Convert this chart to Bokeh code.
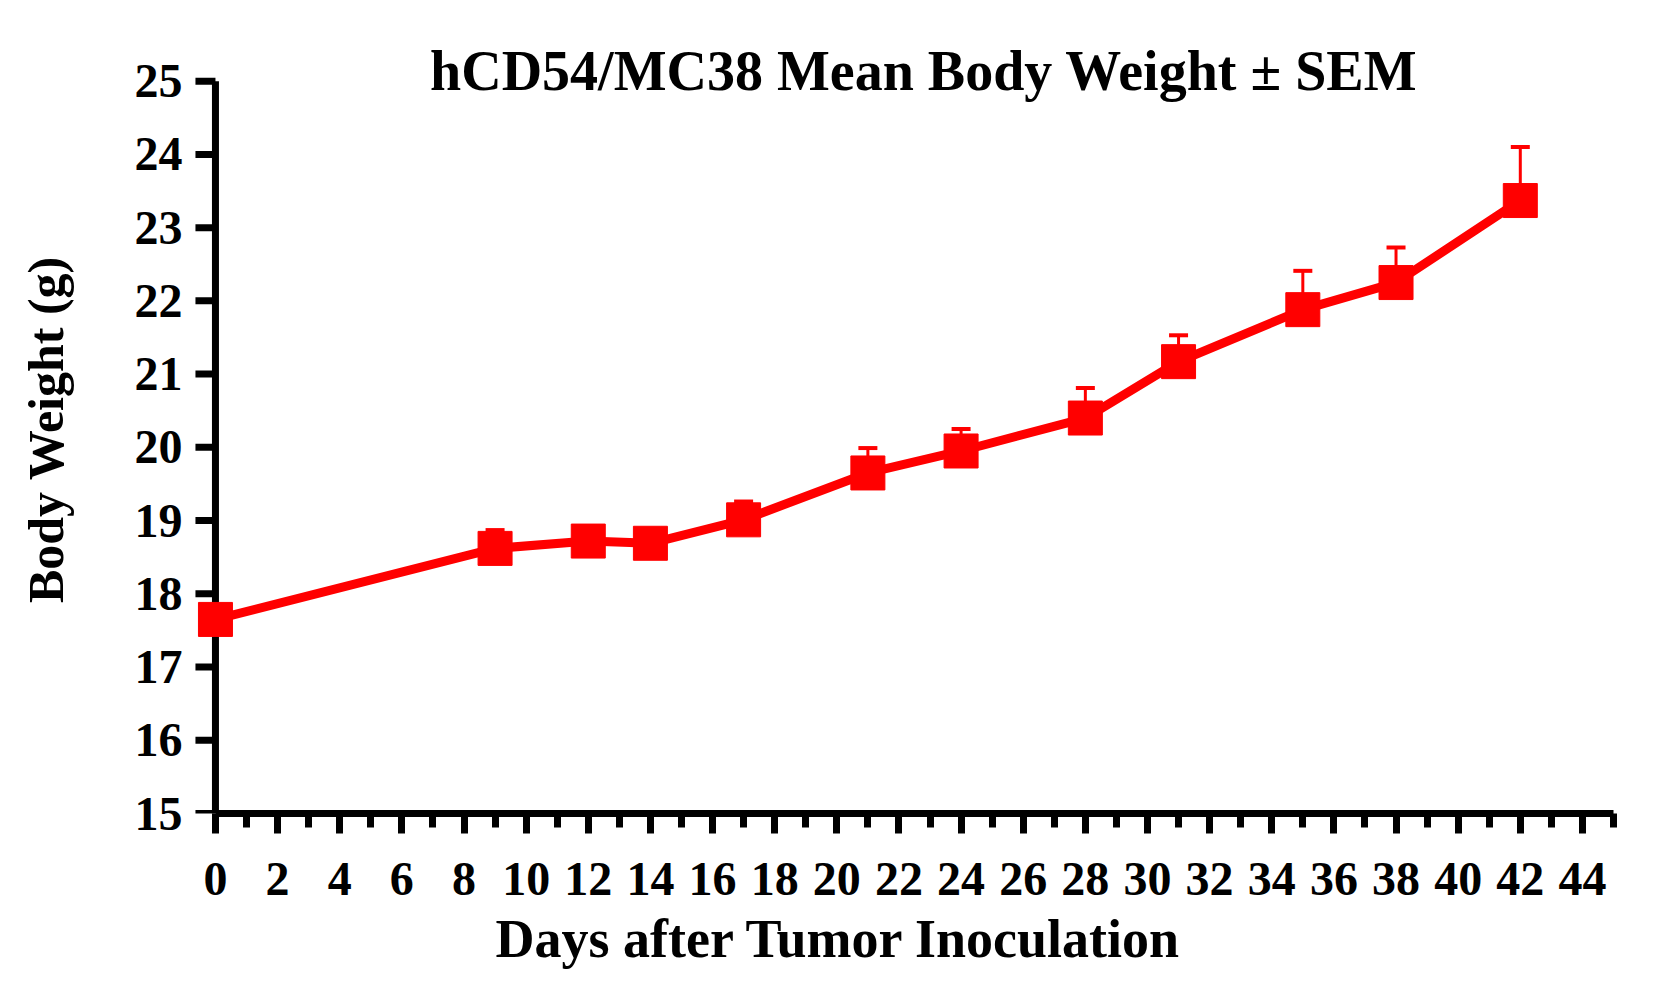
import math
from bokeh.plotting import figure
from bokeh.models import FixedTicker, Label, Whisker, TeeHead, ColumnDataSource, Range1d, Title
from bokeh.embed import file_html
from bokeh.resources import INLINE

# ---- data ----
days = [0, 9, 12, 14, 17, 21, 24, 28, 31, 35, 38, 42]
mean_weight = [17.65, 18.62, 18.72, 18.69, 19.01, 19.65, 19.95, 20.40, 21.17, 21.88, 22.25, 23.37]
sem = [0.10, 0.25, 0.15, 0.15, 0.25, 0.34, 0.30, 0.41, 0.36, 0.53, 0.48, 0.73]
x_ticks = list(range(0, 45, 2))
x_minor_ticks = list(range(1, 46, 2))
y_ticks = list(range(15, 26))
title_text = "hCD54/MC38 Mean Body Weight \u00b1 SEM"
x_label = "Days after Tumor Inoculation"
y_label = "Body Weight (g)"

RED = "#ff0000"
FONT = "Liberation Serif"

upper = [m + s for m, s in zip(mean_weight, sem)]
src = ColumnDataSource(dict(x=days, y=mean_weight, upper=upper))

p = figure(width=1660, height=978, output_backend="svg", toolbar_location=None,
           x_range=Range1d(-0.9, 45), y_range=Range1d(15, 25.487),
           min_border_left=187, min_border_right=47, min_border_top=45, min_border_bottom=158)
p.outline_line_color = None
p.xgrid.visible = False
p.ygrid.visible = False
p.background_fill_color = "white"
p.border_fill_color = "white"

# x axis (built-in)
xa = p.xaxis[0]
xa.ticker = FixedTicker(ticks=x_ticks, minor_ticks=x_minor_ticks)
xa.bounds = (0, 45)
xa.axis_line_width = 7
xa.axis_line_color = "black"
xa.major_tick_line_width = 7
xa.major_tick_line_color = "black"
xa.major_tick_in = 0
xa.major_tick_out = 20
xa.minor_tick_line_width = 7
xa.minor_tick_line_color = "black"
xa.minor_tick_in = 0
xa.minor_tick_out = 14
xa.major_label_standoff = 29
xa.major_label_text_font = FONT
xa.major_label_text_font_style = "bold"
xa.major_label_text_font_size = "48px"
xa.major_label_text_color = "black"

# y axis (built-in, labels only; its line and ticks are drawn at day 0 below)
ya = p.yaxis[0]
ya.ticker = FixedTicker(ticks=y_ticks, minor_ticks=[])
ya.axis_line_color = None
ya.major_tick_line_color = None
ya.minor_tick_line_color = None
ya.major_tick_in = 0
ya.major_tick_out = 0
ya.major_label_standoff = 5
ya.major_label_text_font = FONT
ya.major_label_text_font_style = "bold"
ya.major_label_text_font_size = "48px"
ya.major_label_text_color = "black"
ya.axis_label = y_label
ya.axis_label_text_font = FONT
ya.axis_label_text_font_style = "bold"
ya.axis_label_text_font_size = "50px"
ya.axis_label_text_color = "black"
ya.axis_label_standoff = 58

# y axis line and ticks at day 0
p.segment(x0=[0], y0=[y_ticks[0]], x1=[0], y1=[y_ticks[-1]], line_color="black", line_width=7)
p.ray(x=[0] * len(y_ticks), y=y_ticks, length=20, length_units="screen", angle=math.pi,
      line_color="black", line_width=7)

# error bars (upper only)
p.add_layout(Whisker(source=src, base="x", upper="upper", lower="y", dimension="height",
                     line_color=RED, line_width=3,
                     upper_head=TeeHead(size=19, line_color=RED, line_width=4),
                     lower_head=None))

p.line("x", "y", source=src, line_color=RED, line_width=9)
p.scatter("x", "y", source=src, marker="square", size=34, fill_color=RED, line_color=RED, line_width=1)

p.add_layout(Label(x=22.8, y=25.135, text=title_text, text_align="center", text_baseline="alphabetic",
                   text_font=FONT, text_font_style="bold", text_font_size="56px", text_color="black"))

p.add_layout(Title(text=x_label, align="left", offset=308, standoff=19,
                   text_font=FONT, text_font_style="bold", text_font_size="54px", text_color="black"),
             "below")

open("out.html", "w").write(file_html(p, INLINE))
